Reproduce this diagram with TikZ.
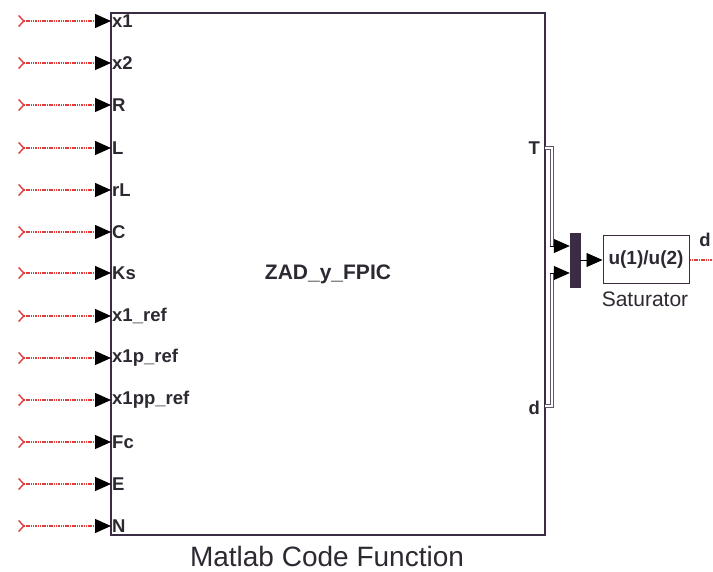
\documentclass[tikz,border=0pt]{standalone}
\usepackage{fontspec}
\setmainfont{Liberation Sans}
\usetikzlibrary{arrows.meta}
\definecolor{blockline}{HTML}{3A2C44}
\definecolor{sigred}{HTML}{E03C3C}
\definecolor{txt}{HTML}{2E2832}
\begin{document}
\begin{tikzpicture}[x=1pt, y=-1pt,
    port/.style={anchor=west, inner sep=1pt, text=txt, font=\fontsize{18.5}{18.5}\selectfont\bfseries},
    outport/.style={anchor=east, inner sep=1pt, text=txt, font=\fontsize{18.5}{18.5}\selectfont\bfseries},
    insig/.style={sigred, line width=1.3pt, dash pattern=on 1.5pt off 0.8pt,
        {Straight Barb[reversed, length=5pt, width=11pt, line width=1.4pt]}-{Triangle[length=16pt, width=14pt, color=black]}},
    wire/.style={black, line width=0.8pt, -{Triangle[length=16pt, width=14pt]}},
    bus/.style={draw=blockline!80, line width=0.7pt, double=white, double distance=2.4pt}]
    \useasboundingbox (0,0) rectangle (713,572);

    % the function block
    \node[draw=blockline, line width=2.8pt, minimum width=434pt, minimum height=522pt,
        inner sep=0pt, text=txt, font=\fontsize{21}{21}\selectfont\bfseries] (zad) at (328,274) {ZAD\_y\_FPIC};
    \node[anchor=base, text=txt, font=\fontsize{28}{28}\selectfont] (caption) at (327,566) {Matlab Code Function};

    % inputs
    \foreach \lab/\yy [count=\i] in {x1/21, x2/63, R/105, L/148, rL/190, C/232, Ks/273,
        x1\_ref/316, x1p\_ref/358, x1pp\_ref/400, Fc/442, E/484, N/526} {
        \coordinate (src\i) at (18,\yy);
        \coordinate (in\i) at (111,\yy);
        \node[port] (lab\i) at (in\i) {\lab};
        \draw[insig] (src\i) -- (in\i);
    }

    % outputs
    \coordinate (oT) at (545,148);
    \coordinate (od) at (545,406);
    \node[outport] (labT) at (541,148) {T};
    \node[outport] (labd) at (541,408) {d};

    % mux and saturator
    \node[fill=blockline, draw=blockline, minimum width=10pt, minimum height=54pt, inner sep=0pt] (mux) at (575,260) {};
    \node[draw=blockline, line width=1pt, minimum width=86pt, minimum height=48pt, inner sep=0pt,
        text=txt, font=\fontsize{19}{19}\selectfont\bfseries] (sat) at (646,260) {u(1)/u(2)};
    \node[anchor=base, text=txt, font=\fontsize{21}{21}\selectfont] (satlab) at (645,307) {Saturator};

    \coordinate (mux1) at ([yshift=14pt]mux.west);
    \coordinate (mux2) at ([yshift=-13pt]mux.west);
    \coordinate (cT) at ([xshift=-18pt]mux1);
    \coordinate (cd) at ([xshift=-18pt]mux2);

    \draw[bus] (oT) -| (cT);
    \draw[bus] (od) -| (cd);
    \draw[wire] ([xshift=-1.5pt]cT) -- (mux1);
    \draw[wire] ([xshift=-1.5pt]cd) -- (mux2);
    \draw[wire] (mux.east) -- (sat.west);

    % output signal
    \coordinate (dout) at (713,260);
    \draw[sigred, line width=1.3pt, dash pattern=on 1.5pt off 0.8pt] (sat.east) -- (dout);
    \node[text=txt, font=\fontsize{18.5}{18.5}\selectfont\bfseries] (labdout) at (705,240) {d};
\end{tikzpicture}
\end{document}
